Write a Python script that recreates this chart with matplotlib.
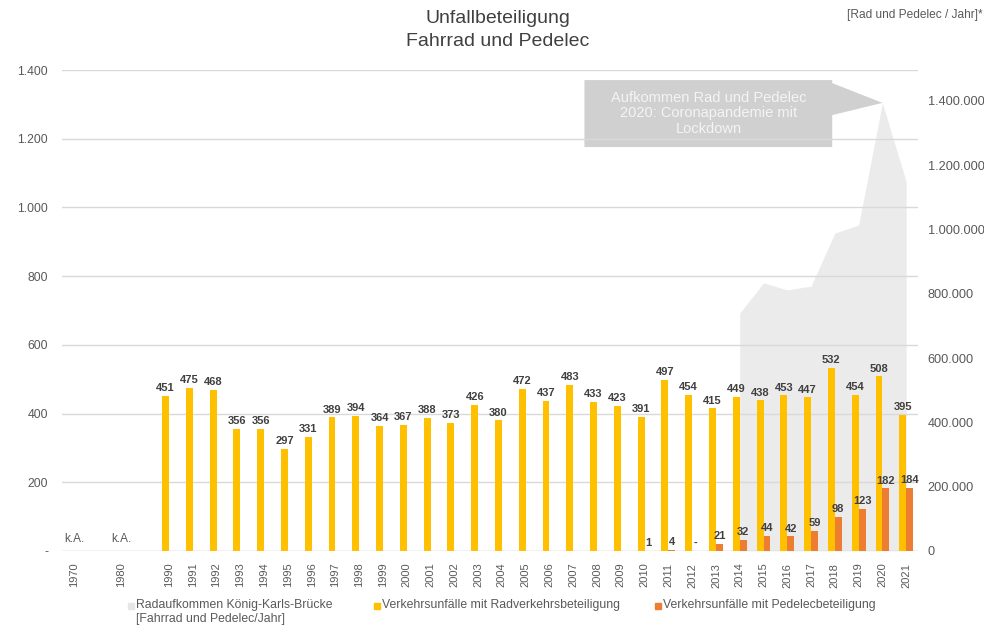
import matplotlib.pyplot as plt
import numpy as np
from matplotlib.patches import Polygon, Rectangle

plt.rcParams['font.family'] = ['Liberation Sans', 'DejaVu Sans']

# categories (1970 and 1980 without data, gap before 1990)
years = ['1970', '1980'] + [str(y) for y in range(1990, 2022)]
positions = [0, 2] + list(range(4, 36))

rad_unfaelle = [None, None, 451, 475, 468, 356, 356, 297, 331, 389, 394, 364, 367, 388,
                373, 426, 380, 472, 437, 483, 433, 423, 391, 497, 454, 415, 449, 438,
                453, 447, 532, 454, 508, 395]
pedelec_years = list(range(2010, 2022))
pedelec_unfaelle = [1, 4, 0, 21, 32, 44, 42, 59, 98, 123, 182, 184]

aufkommen_years = list(range(2014, 2022))
aufkommen = [740000, 834000, 812000, 824000, 989000, 1014000, 1394000, 1149000]

legend_labels = ['Radaufkommen König-Karls-Brücke\n[Fahrrad und Pedelec/Jahr]',
                 'Verkehrsunfälle mit Radverkehrsbeteiligung',
                 'Verkehrsunfälle mit Pedelecbeteiligung']

YELLOW = '#FFC000'
ORANGE = '#ED7D31'
AREA = '#ebebeb'
TXT = '#595959'

pos_of = dict(zip(years, positions))

fig = plt.figure(figsize=(9.84, 6.26), dpi=100)
ax = fig.add_axes([0.063, 0.12, 0.87, 0.768])
ax2 = ax.twinx()
ax.set_zorder(ax2.get_zorder() + 1)
ax.patch.set_visible(False)

# area on secondary axis
xa = [pos_of[str(y)] for y in aufkommen_years]
ax2.fill_between(xa, 0, aufkommen, color=AREA, lw=0)
ax2.set_ylim(0, 1496000)
ax2.set_yticks(np.arange(0, 1400001, 200000))
ax2.set_yticklabels(['0'] + [f'{v:,}'.replace(',', '.') for v in range(200000, 1400001, 200000)])

bw = 0.29
# yellow bars
for p, v in zip(positions, rad_unfaelle):
    if v is None:
        ax.text(p, 16, 'k.A.', ha='center', va='bottom', fontsize=8.5, color=TXT)
        continue
    ax.bar(p - bw / 2, v, width=bw, color=YELLOW, zorder=3)
    ax.text(p - bw / 2, v + 8, str(v), ha='center', va='bottom', fontsize=8,
            fontweight='bold', color='#404040', zorder=4)

# orange bars
for y, v in zip(pedelec_years, pedelec_unfaelle):
    p = pos_of[str(y)]
    ax.bar(p + bw / 2, v, width=bw, color=ORANGE, zorder=3)
    lab = str(v) if v else '-'
    ax.text(p + bw / 2, v + 8, lab, ha='center', va='bottom', fontsize=8,
            fontweight='bold', color='#404040', zorder=4)

ax.set_xlim(-0.5, 35.5)
ax.set_ylim(0, 1400)
ax2.set_xlim(-0.5, 35.5)
ax.set_yticks(np.arange(0, 1401, 200))
ax.set_yticklabels(['-'] + [f'{v:,}'.replace(',', '.') for v in range(200, 1401, 200)])
ax.set_xticks(positions)
ax.set_xticklabels(years, rotation=90)
ax.grid(axis='y', color='#d9d9d9', lw=1)
ax.set_axisbelow(False)

for a in (ax, ax2):
    for s in a.spines.values():
        s.set_visible(False)
    a.tick_params(length=0, colors=TXT, labelsize=8.8)
ax.tick_params(axis='y', pad=10)
ax.tick_params(axis='x', pad=8.5, labelsize=8)
ax2.tick_params(axis='y', pad=7, labelsize=9.2)
ax.axhline(0, color='#d9d9d9', lw=1, zorder=2)

# callout
box = [(21.47, 1465000), (31.89, 1465000), (31.89, 1455600), (pos_of['2020'], aufkommen[6]),
       (31.89, 1356000), (31.89, 1256600), (21.47, 1256600)]
ax2.add_patch(Polygon(box, closed=True, color='#d0d0d0', lw=0, zorder=5))
ax2.text((21.47 + 31.89) / 2, 1361000,
         'Aufkommen Rad und Pedelec\n2020: Coronapandemie mit\nLockdown',
         ha='center', va='center', fontsize=10.5, color='#f4f4f4', linespacing=1.15, zorder=6)

fig.text(0.506, 0.952, 'Unfallbeteiligung\nFahrrad und Pedelec', ha='center', va='center',
         fontsize=14, color='#404040', linespacing=1.45)
fig.text(0.999, 0.976, '[Rad und Pedelec / Jahr]*', ha='right', va='center',
         fontsize=8.6, color=TXT)

# legend built by hand (first entry has two lines, all aligned at top)
leg_x = [128, 374, 655]
leg_colors = ['#e6e6e6', YELLOW, ORANGE]
W, H = 984, 626
for x, c, lab in zip(leg_x, leg_colors, legend_labels):
    fig.add_artist(Rectangle((x / W, 1 - 609 / H), 6 / W, 6 / H, color=c,
                             transform=fig.transFigure))
    fig.text((x + 8) / W, 1 - 599 / H, lab, ha='left', va='top', fontsize=8.8,
             color=TXT, linespacing=1.25)

fig.savefig('out.png', dpi=100)
